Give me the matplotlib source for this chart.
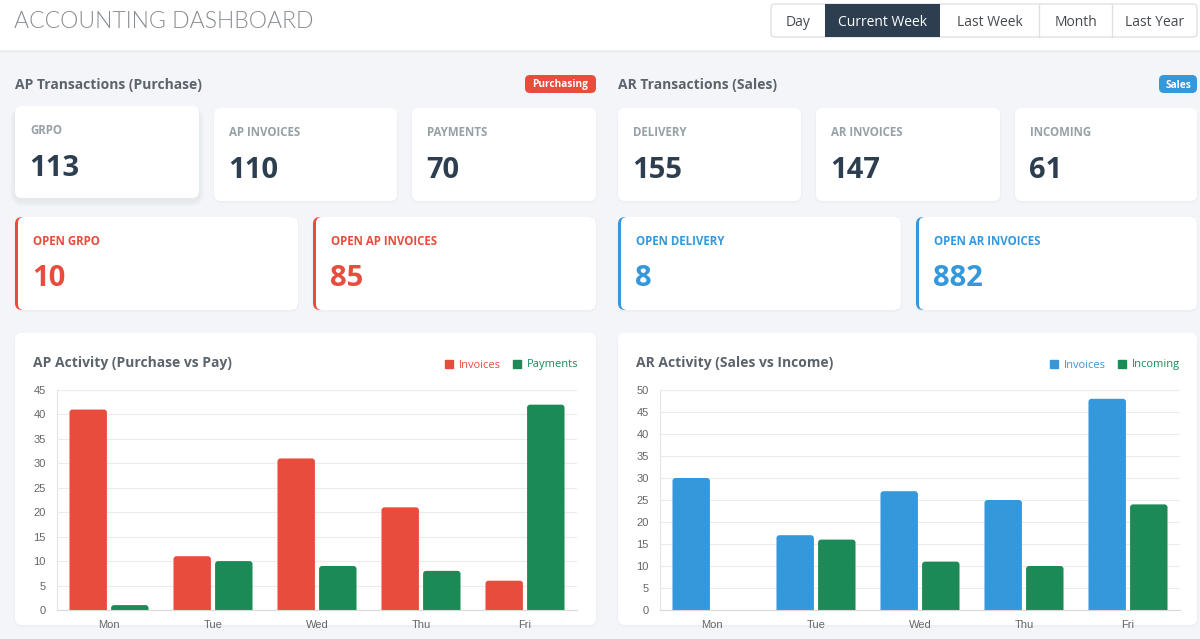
import matplotlib
matplotlib.use("Agg")
import matplotlib.pyplot as plt
from matplotlib.patches import FancyBboxPatch, Rectangle, Patch
import numpy as np

W, H = 1200, 639

# ---- data ----
days = ["Mon", "Tue", "Wed", "Thu", "Fri"]
ap_invoices = [41, 11, 31, 21, 6]
ap_payments = [1, 10, 9, 8, 42]
ar_invoices = [30, 17, 27, 25, 48]
ar_incoming = [0, 16, 11, 10, 24]

periods = ["Day", "Current Week", "Last Week", "Month", "Last Year"]
active_period = "Current Week"

ap_card_labels = ["GRPO", "AP INVOICES", "PAYMENTS"]
ap_card_values = [113, 110, 70]
ar_card_labels = ["DELIVERY", "AR INVOICES", "INCOMING"]
ar_card_values = [155, 147, 61]
ap_open_labels = ["OPEN GRPO", "OPEN AP INVOICES"]
ap_open_values = [10, 85]
ar_open_labels = ["OPEN DELIVERY", "OPEN AR INVOICES"]
ar_open_values = [8, 882]

RED = "#e74c3c"
GREEN = "#1b8a57"
BLUE = "#3498db"
DARK = "#2c3e50"
BG = "#f3f5f9"
HEAD = "#5b646c"
LABEL = "#95a1a6"
UI = ["Open Sans", "DejaVu Sans"]
THIN = ["Lato", "Open Sans", "DejaVu Sans"]
CHART_FONT = ["Liberation Sans", "DejaVu Sans"]

fig = plt.figure(figsize=(W / 100, H / 100), dpi=100)
fig.patch.set_facecolor(BG)

bg = fig.add_axes([0, 0, 1, 1])
bg.set_xlim(0, W)
bg.set_ylim(H, 0)
bg.axis("off")


def box(x, y, w, h, color, r=6, z=1, ec="none", lw=0):
    p = FancyBboxPatch((x, y), w, h, boxstyle=f"round,pad=0,rounding_size={r}",
                       fc=color, ec=ec, lw=lw, zorder=z)
    bg.add_patch(p)
    return p


def shadow(x, y, w, h, strong=False):
    layers = 6 if strong else 2
    for i in range(layers, 0, -1):
        box(x - i * 0.8, y - i * 0.3 + (3 if strong else 1), w + i * 1.6, h + i * 1.2,
            "#c8cfd8", r=8 + i, z=0.5).set_alpha(0.05 if strong else 0.06)


# ---- header ----
bg.add_patch(Rectangle((0, 0), W, 50, fc="white", ec="none", zorder=0.2))
bg.plot([0, W], [50.5, 50.5], color="#e6e9ee", lw=1, zorder=0.3)
bg.text(14, 21.5, "ACCOUNTING DASHBOARD", fontsize=16.6, family=THIN, fontweight=300,
        color="#878c91", va="center", ha="left")

btn_edges = [771, 825, 940, 1039, 1112, 1197]
box(771, 4, 1197 - 771, 33, "white", r=4, z=1, ec="#dcdfe3", lw=0.9)
for i, lab in enumerate(periods):
    x0, x1 = btn_edges[i], btn_edges[i + 1]
    if lab == active_period:
        bg.add_patch(Rectangle((x0, 4), x1 - x0, 33, fc=DARK, ec="none", zorder=2))
        col = "white"
    else:
        col = "#444a50"
        if i > 0 and periods[i - 1] != active_period:
            bg.plot([x0, x0], [4, 37], color="#dcdfe3", lw=0.9, zorder=2)
    bg.text((x0 + x1) / 2, 22.5, lab, fontsize=10, family=UI, color=col,
            ha="center", va="center", zorder=3)

# ---- section headers ----
bg.text(15, 85.5, "AP Transactions (Purchase)", fontsize=10, family=UI, fontweight="bold",
        color=HEAD, va="center")
bg.text(618, 85.5, "AR Transactions (Sales)", fontsize=10, family=UI, fontweight="bold",
        color=HEAD, va="center")
box(525, 75, 71, 18, RED, r=5, z=1)
bg.text(560.5, 85, "Purchasing", fontsize=7.3, family=UI, fontweight="bold", color="white",
        ha="center", va="center", zorder=2)
box(1159, 75, 38, 18, BLUE, r=5, z=1)
bg.text(1178, 85, "Sales", fontsize=7.3, family=UI, fontweight="bold", color="white",
        ha="center", va="center", zorder=2)

# ---- top cards ----
card_x = [15, 214, 412, 618, 816, 1015]
card_w = [184, 183, 184, 183, 184, 182]
labels = ap_card_labels + ar_card_labels
values = ap_card_values + ar_card_values
for i in range(6):
    x, w = card_x[i], card_w[i]
    y = 106 if i == 0 else 108
    h = 92 if i == 0 else 93
    shadow(x, y, w, h, strong=(i == 0))
    box(x, y, w, h, "white", r=7, z=1)
    lx = x + 15
    bg.text(lx, y + 24.5, labels[i], fontsize=8.3, family=UI,
            fontweight="bold", color=LABEL, va="center", zorder=2)
    bg.text(lx - 1, y + 62, str(values[i]), fontsize=21, family=UI,
            fontweight="bold", color=DARK, va="center", zorder=2)

# ---- open cards ----
open_x = [15, 313, 618, 916]
open_w = [283, 283, 283, 281]
open_labels = ap_open_labels + ar_open_labels
open_values = ap_open_values + ar_open_values
open_cols = [RED, RED, BLUE, BLUE]
for i in range(4):
    x, w, c = open_x[i], open_w[i], open_cols[i]
    shadow(x, 217, w, 93)
    box(x, 217, w, 93, c, r=7, z=1)
    box(x + 3, 217, w - 3, 93, "white", r=6, z=1.1)
    bg.text(x + 18, 241.5, open_labels[i], fontsize=8.3, family=UI, fontweight="bold",
            color=c, va="center", zorder=2)
    bg.text(x + 17, 279, str(open_values[i]), fontsize=21, family=UI, fontweight="bold",
            color=c, va="center", zorder=2)

# ---- chart panels ----
for px, title in [(15, "AP Activity (Purchase vs Pay)"), (618, "AR Activity (Sales vs Income)")]:
    pw = 581 if px == 15 else 579
    shadow(px, 333, pw, 292)
    box(px, 333, pw, 292, "white", r=7, z=1)
    bg.text(px + 18, 363.5, title, fontsize=10, family=UI, fontweight="bold",
            color=HEAD, va="center", zorder=2)


def round_tops(ax, bars, ymax, plot_w, plot_h, radius=3):
    # swap the plain bars for ones with rounded corners (bottom is clipped at 0)
    rx = radius / (plot_w / len(days))
    ry = radius / (plot_h / ymax)
    for rect in bars.patches:
        x0, w, hgt = rect.get_x(), rect.get_width(), rect.get_height()
        fb = FancyBboxPatch((x0, -ry), w, hgt + ry,
                            boxstyle=f"round,pad=0,rounding_size={rx}",
                            mutation_aspect=ry / rx, fc=rect.get_facecolor(),
                            ec="none", zorder=3)
        ax.add_patch(fb)
        rect.set_visible(False)


def bar_chart(left, right, ymax, s1, s2, c1, c2, names, legend_right):
    plot_w, plot_h = right - left, 220
    ax = fig.add_axes([left / W, (H - 610) / H, plot_w / W, plot_h / H])
    ax.set_facecolor("none")
    x = np.arange(len(days))
    b1 = ax.bar(x - 0.2, s1, width=0.36, color=c1, zorder=3)
    b2 = ax.bar(x + 0.2, s2, width=0.36, color=c2, zorder=3)
    round_tops(ax, b1, ymax, plot_w, plot_h)
    round_tops(ax, b2, ymax, plot_w, plot_h)
    ax.set_xlim(-0.5, len(days) - 0.5)
    ax.set_ylim(0, ymax)
    ax.set_yticks(np.arange(0, ymax + 1, 5))
    ax.set_xticks(x)
    ax.set_xticklabels(days)
    ax.grid(axis="y", color="#ececec", lw=0.8, zorder=0)
    ax.tick_params(length=0, labelsize=8, labelcolor="#666666")
    ax.tick_params(axis="y", pad=8)
    ax.tick_params(axis="x", pad=7)
    for lab in ax.get_xticklabels() + ax.get_yticklabels():
        lab.set_family(CHART_FONT)
    for s in ["top", "right"]:
        ax.spines[s].set_visible(False)
    ax.spines["left"].set_color("#e4e4e4")
    ax.spines["bottom"].set_color("#d9d9d9")
    ax.spines["bottom"].set_zorder(4)
    handles = [Patch(color=c1, label=names[0]), Patch(color=c2, label=names[1])]
    ax.legend(handles=handles, loc="center right",
              bbox_to_anchor=(legend_right / W, 1 - 365 / H),
              bbox_transform=fig.transFigure, ncol=2, frameon=False, borderpad=0,
              borderaxespad=0, handlelength=0.75, handleheight=0.75, handletextpad=0.5,
              columnspacing=1.1, labelcolor=[c1, c2],
              prop={"family": UI, "size": 8})
    return ax


bar_chart(57, 577, 45, ap_invoices, ap_payments, RED, GREEN, ["Invoices", "Payments"], 578)
bar_chart(660, 1180, 50, ar_invoices, ar_incoming, BLUE, GREEN, ["Invoices", "Incoming"], 1180)

fig.savefig("out.png", dpi=100, facecolor=fig.get_facecolor())
